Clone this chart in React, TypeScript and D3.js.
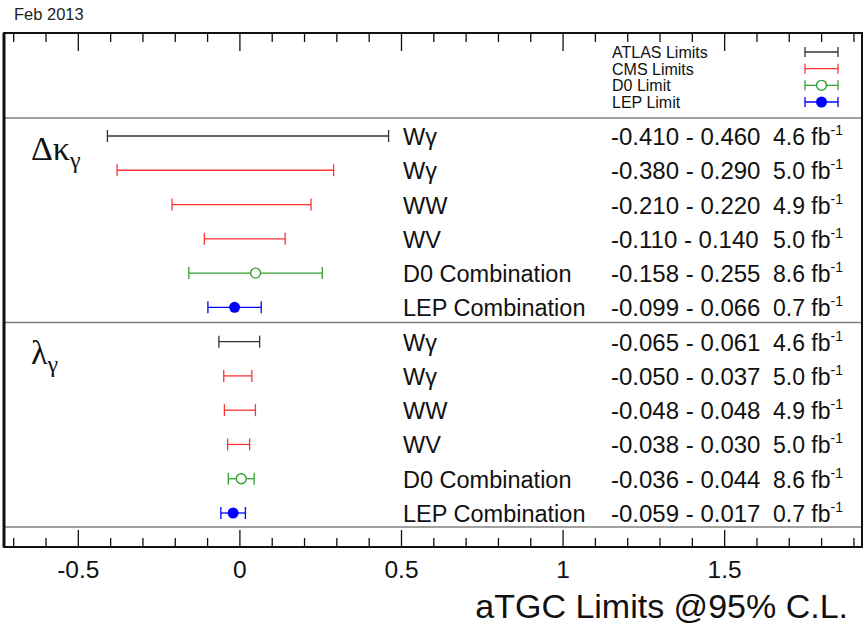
import React from 'react';
import * as d3 from 'd3';

// --- data ---
const experiments = ['ATLAS', 'CMS', 'D0', 'LEP'];
const legendLabels = ['ATLAS Limits', 'CMS Limits', 'D0 Limit', 'LEP Limit'];
const expColors = ['#333333', '#ff3333', '#33a033', '#0000ff'];

const dkChannels = ['Wγ', 'Wγ', 'WW', 'WV', 'D0 Combination', 'LEP Combination'];
const dkExp = ['ATLAS', 'CMS', 'CMS', 'CMS', 'D0', 'LEP'];
const dkLow = [-0.41, -0.38, -0.21, -0.11, -0.158, -0.099];
const dkHigh = [0.46, 0.29, 0.22, 0.14, 0.255, 0.066];
const dkLumi = ['4.6', '5.0', '4.9', '5.0', '8.6', '0.7'];

const lgChannels = ['Wγ', 'Wγ', 'WW', 'WV', 'D0 Combination', 'LEP Combination'];
const lgExp = ['ATLAS', 'CMS', 'CMS', 'CMS', 'D0', 'LEP'];
const lgLow = [-0.065, -0.05, -0.048, -0.038, -0.036, -0.059];
const lgHigh = [0.061, 0.037, 0.048, 0.03, 0.044, 0.017];
const lgLumi = ['4.6', '5.0', '4.9', '5.0', '8.6', '0.7'];

const majorTicks = [-0.5, 0, 0.5, 1, 1.5];
const tickLabels = ['-0.5', '0', '0.5', '1', '1.5'];

const W = 864;
const H = 627;
const frame = { left: 4, right: 862, top: 33, bottom: 547 };
const FONT = '"Liberation Sans", Arial, Helvetica, sans-serif';
const SERIF = '"Liberation Serif", "Times New Roman", serif';

type Row = { id: string; channel: string; exp: string; low: number; high: number; lumi: string };

const rows: Row[] = [
  ...dkChannels.map((c, i) => ({ id: `dk${i}`, channel: c, exp: dkExp[i], low: dkLow[i], high: dkHigh[i], lumi: dkLumi[i] })),
  ...lgChannels.map((c, i) => ({ id: `lg${i}`, channel: c, exp: lgExp[i], low: lgLow[i], high: lgHigh[i], lumi: lgLumi[i] })),
];

// plain hyphen minus like the original (d3.format would give U+2212)
const fmt = (v: number) => v.toFixed(3);

export default function App() {
  const x = d3.scaleLinear([-0.73, 1.925], [frame.left, frame.right]);
  const y = d3.scalePoint(rows.map((r) => r.id), [136, 513]);
  const color = d3.scaleOrdinal(experiments, expColors);
  const legendY = d3.scalePoint(experiments, [52, 102]);

  const minor = d3.range(-7, 20).map((k) => k / 10).filter((v) => !majorTicks.some((m) => Math.abs(m - v) < 1e-9));
  const seps = [y('dk0')! - 18, (y('dk5')! + y('lg0')!) / 2 - 2, y('lg5')! + 14];

  const errBar = (lo: number, hi: number, yy: number, exp: string, cap: number, key: string) => {
    const c = color(exp);
    const mid = (lo + hi) / 2;
    return (
      <g key={key} stroke={c} strokeWidth={1.3} fill="none">
        <line x1={lo} x2={hi} y1={yy} y2={yy} />
        <line x1={lo} x2={lo} y1={yy - cap} y2={yy + cap} />
        <line x1={hi} x2={hi} y1={yy - cap} y2={yy + cap} />
        {exp === 'D0' && <circle cx={mid} cy={yy} r={5} fill="#fff" strokeWidth={1.4} />}
        {exp === 'LEP' && <circle cx={mid} cy={yy} r={5.5} fill={c} stroke="none" />}
      </g>
    );
  };

  return (
    <svg width={W} height={H} style={{ position: 'absolute', left: 0, top: 0, background: '#fff' }}>
      <rect width={W} height={H} fill="#fff" />
      <text x={14} y={20} fontFamily={FONT} fontSize={16.5} fill="#222">Feb 2013</text>

      {/* separators */}
      {seps.map((s, i) => (
        <line key={i} x1={frame.left} x2={frame.right} y1={s} y2={s} stroke="#808080" strokeWidth={1.5} />
      ))}

      {/* legend */}
      {experiments.map((e, i) => (
        <g key={e}>
          <text x={612} y={legendY(e)! + 6} fontFamily={FONT} fontSize={16} fill="#111">{legendLabels[i]}</text>
          {errBar(805, 838, legendY(e)!, e, 5, `leg${e}`)}
        </g>
      ))}

      {/* rows */}
      {rows.map((r) => {
        const yy = y(r.id)!;
        return (
          <g key={r.id}>
            {errBar(x(r.low), x(r.high), yy, r.exp, 6, `b${r.id}`)}
            <text x={403} y={yy + 9} fontFamily={FONT} fontSize={23.5} fill="#111">{r.channel}</text>
            <text x={611} y={yy + 9} fontFamily={FONT} fontSize={24} fill="#111">{`${fmt(r.low)} - ${fmt(r.high)}`}</text>
            <text x={773} y={yy + 9} fontFamily={FONT} fontSize={23} fill="#111">
              {`${r.lumi} fb`}
              <tspan fontSize={14} dy={-10}>-1</tspan>
            </text>
          </g>
        );
      })}

      {/* section labels */}
      <text x={31} y={y('dk0')! + 24} fontFamily={SERIF} fontSize={34} fill="#111">
        Δκ<tspan fontSize={24} dy={8}>γ</tspan>
      </text>
      <text x={31} y={y('lg0')! + 22} fontFamily={SERIF} fontSize={34} fill="#111">
        λ<tspan fontSize={24} dy={8}>γ</tspan>
      </text>

      {/* frame */}
      <rect x={frame.left} y={frame.top} width={frame.right - frame.left} height={frame.bottom - frame.top} fill="none" stroke="#111" strokeWidth={2} />
      <line x1={frame.left} x2={frame.left} y1={frame.top} y2={frame.bottom} stroke="#111" strokeWidth={3} />

      {/* ticks */}
      {minor.map((v) => (
        <g key={`m${v}`} stroke="#111" strokeWidth={1.3}>
          <line x1={x(v)} x2={x(v)} y1={frame.bottom} y2={frame.bottom - 9} />
          <line x1={x(v)} x2={x(v)} y1={frame.top} y2={frame.top + 9} />
        </g>
      ))}
      {majorTicks.map((v, i) => (
        <g key={`M${v}`}>
          <line x1={x(v)} x2={x(v)} y1={frame.bottom} y2={frame.bottom - 17} stroke="#111" strokeWidth={1.3} />
          <line x1={x(v)} x2={x(v)} y1={frame.top} y2={frame.top + 18} stroke="#111" strokeWidth={1.3} />
          <text x={x(v)} y={frame.bottom + 31} textAnchor="middle" fontFamily={FONT} fontSize={24.5} fill="#111">{tickLabels[i]}</text>
        </g>
      ))}

      <text x={848} y={618} textAnchor="end" fontFamily={FONT} fontSize={34} fill="#111">aTGC Limits @95% C.L.</text>
    </svg>
  );
}
